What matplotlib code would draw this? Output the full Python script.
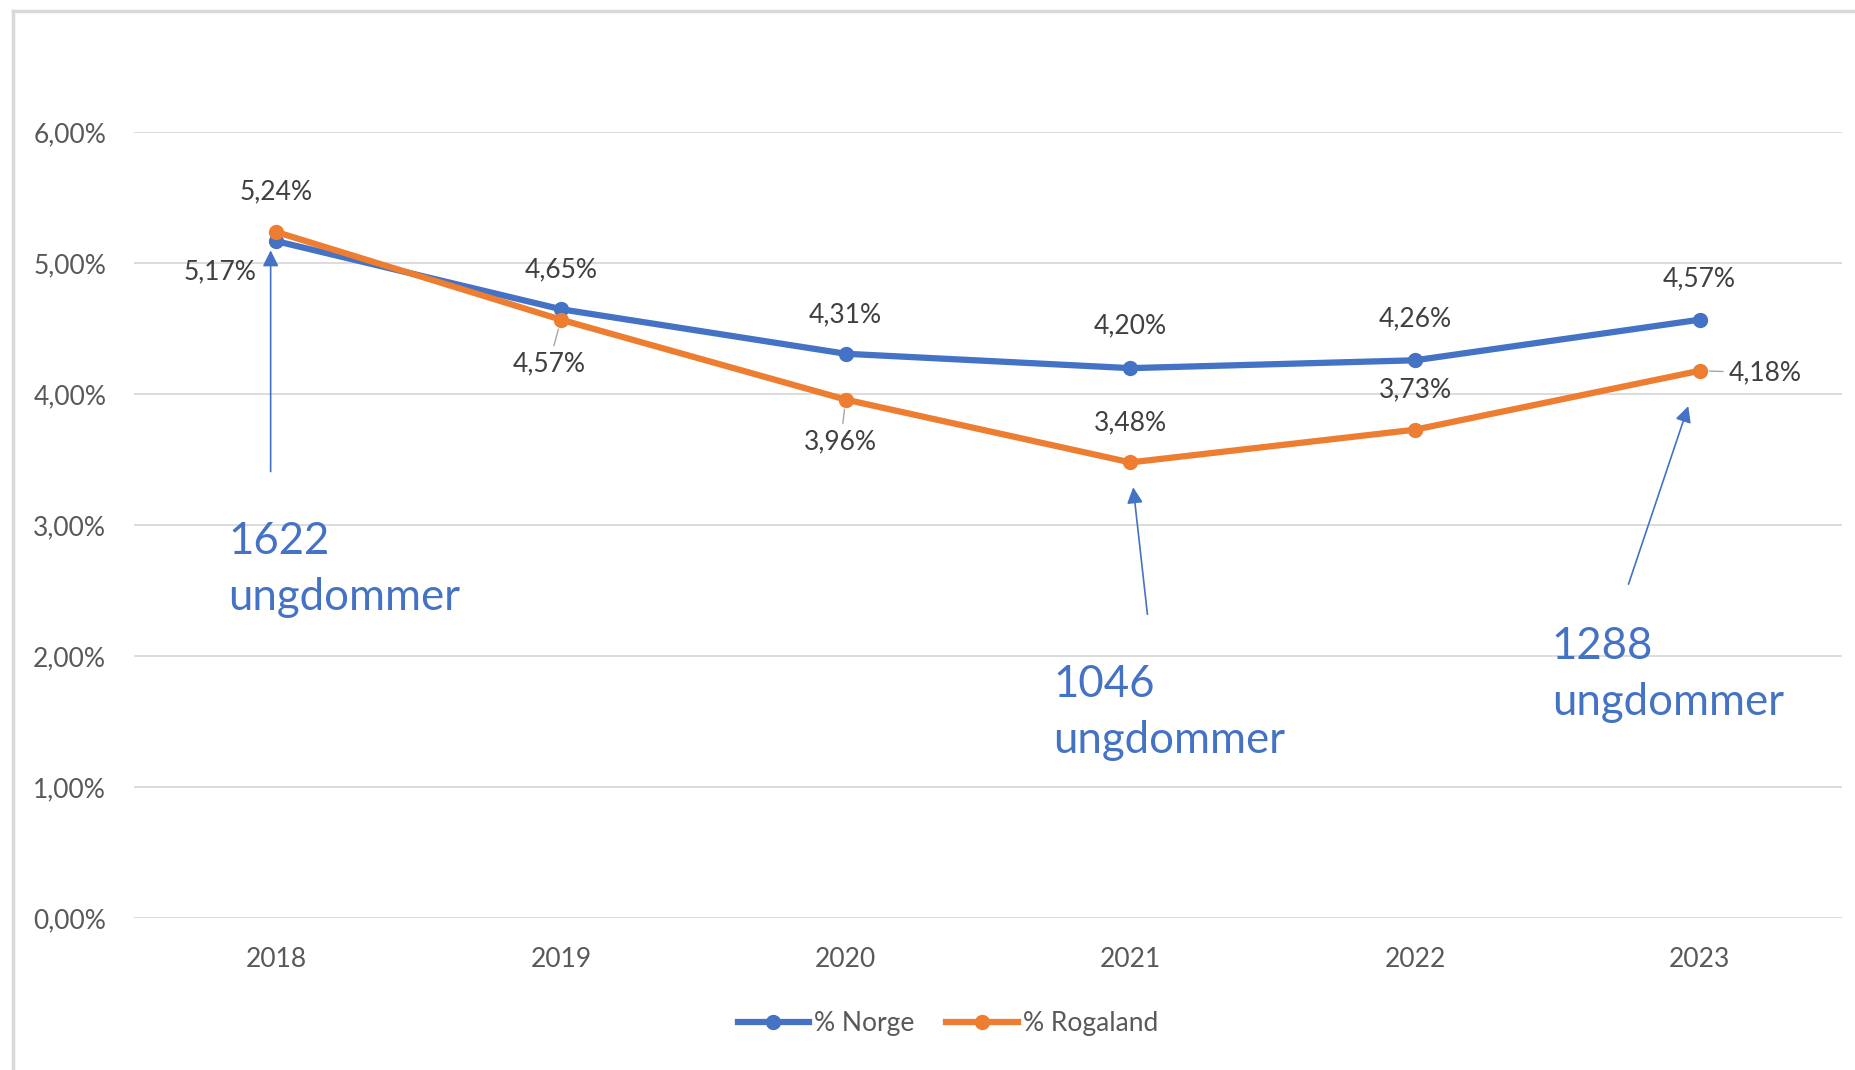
"""
Andel ungdommer - Norge vs Rogaland 2018-2023 (line chart with data labels).
"""
import matplotlib
matplotlib.use('Agg')
import matplotlib.pyplot as plt
from matplotlib.lines import Line2D

plt.rcParams['font.family'] = ['Lato', 'DejaVu Sans']

years = ["2018", "2019", "2020", "2021", "2022", "2023"]
norge = [5.17, 4.65, 4.31, 4.20, 4.26, 4.57]
rogaland = [5.24, 4.57, 3.96, 3.48, 3.73, 4.18]
y_ticks = [0, 1, 2, 3, 4, 5, 6]

# callouts: text, text anchor (x idx, y %), arrow tail, arrow head
callout_text = ["1622\nungdommer", "1046\nungdommer", "1288\nungdommer"]
callout_text_pos = [(-0.17, 2.66), (2.73, 1.57), (4.48, 1.86)]
callout_tail = [(-0.02, 3.41), (3.06, 2.32), (4.75, 2.55)]
callout_head = [(-0.02, 5.10), (3.01, 3.29), (4.96, 3.91)]

BLUE = "#4472C4"
ORANGE = "#ED7D31"
GRID = "#D9D9D9"
TICK = "#595959"
LABEL = "#404040"
FS = 19


def pct(v):
    return f"{v:.2f}%".replace(".", ",")


fig = plt.figure(figsize=(18.55, 10.70), dpi=100)
ax = fig.add_axes([134 / 1855, 1 - 918 / 1070, (1842 - 134) / 1855, (918 - 132.5) / 1070])

x = list(range(len(years)))
ax.plot(x, norge, color=BLUE, lw=4.5, marker="o", ms=10, solid_capstyle="round", zorder=3)
ax.plot(x, rogaland, color=ORANGE, lw=4.5, marker="o", ms=10, solid_capstyle="round", zorder=4)

ax.set_xlim(-0.5, len(years) - 0.5)
ax.set_ylim(0, 6)
ax.set_yticks(y_ticks)
ax.set_yticklabels([pct(v) for v in y_ticks])
ax.set_xticks(x)
ax.set_xticklabels(years)
ax.tick_params(length=0, labelsize=FS, labelcolor=TICK)
ax.tick_params(axis="y", pad=20)
ax.tick_params(axis="x", pad=21)
ax.grid(axis="y", color=GRID, lw=1.3)
ax.set_axisbelow(True)
for s in ax.spines.values():
    s.set_visible(False)

# data label offsets in pixels (dx, dy) from each point
norge_off = [(-56, -31), (0, 39), (0, 39), (0, 42), (0, 41), (0, 41)]
rog_off = [(0, 40), (-12, -44), (-5, -42), (0, 40), (0, 40), (29, -2)]
leader = dict(arrowstyle="-", color="#A6A6A6", lw=1.0, shrinkA=2, shrinkB=7)

for i, v in enumerate(norge):
    dx, dy = norge_off[i]
    ax.annotate(pct(v), (i, v), xytext=(dx, dy), textcoords="offset pixels",
                ha="center", va="center", fontsize=FS, color=LABEL, zorder=5)
for i, v in enumerate(rogaland):
    dx, dy = rog_off[i]
    ha = "left" if i == len(rogaland) - 1 else "center"
    props = leader if i in (1, 2, 5) else None
    ax.annotate(pct(v), (i, v), xytext=(dx, dy), textcoords="offset pixels",
                ha=ha, va="center", fontsize=FS, color=LABEL, zorder=5,
                arrowprops=props)

# blue callouts
for txt, tp, tail, head in zip(callout_text, callout_text_pos, callout_tail, callout_head):
    ax.annotate("", xy=head, xytext=tail,
                arrowprops=dict(arrowstyle="-|>", color=BLUE, lw=1.2,
                                mutation_scale=24, shrinkA=0, shrinkB=0), zorder=6)
    ax.text(tp[0], tp[1], txt, ha="left", va="center", fontsize=31.5,
            color=BLUE, linespacing=1.46, zorder=6)

# legend below the plot
handles = [Line2D([], [], color=BLUE, lw=4.5, marker="o", ms=10),
           Line2D([], [], color=ORANGE, lw=4.5, marker="o", ms=10)]
fig.legend(handles, ["% Norge", "% Rogaland"], loc="center",
           bbox_to_anchor=(948 / 1855, 1 - 1024 / 1070), ncol=2, frameon=False,
           fontsize=FS, handlelength=2.7, handletextpad=0.2, columnspacing=1.2,
           labelcolor=TICK)

# chart frame (only left/top edges visible in the crop)
fig.add_artist(Line2D([13 / 1855, 13 / 1855], [0, 1 - 11 / 1070], color=GRID, lw=2.5,
                      transform=fig.transFigure))
fig.add_artist(Line2D([13 / 1855, 1], [1 - 11 / 1070, 1 - 11 / 1070], color=GRID, lw=2.5,
                      transform=fig.transFigure))

fig.savefig("out.png", dpi=100)
plt.close(fig)
